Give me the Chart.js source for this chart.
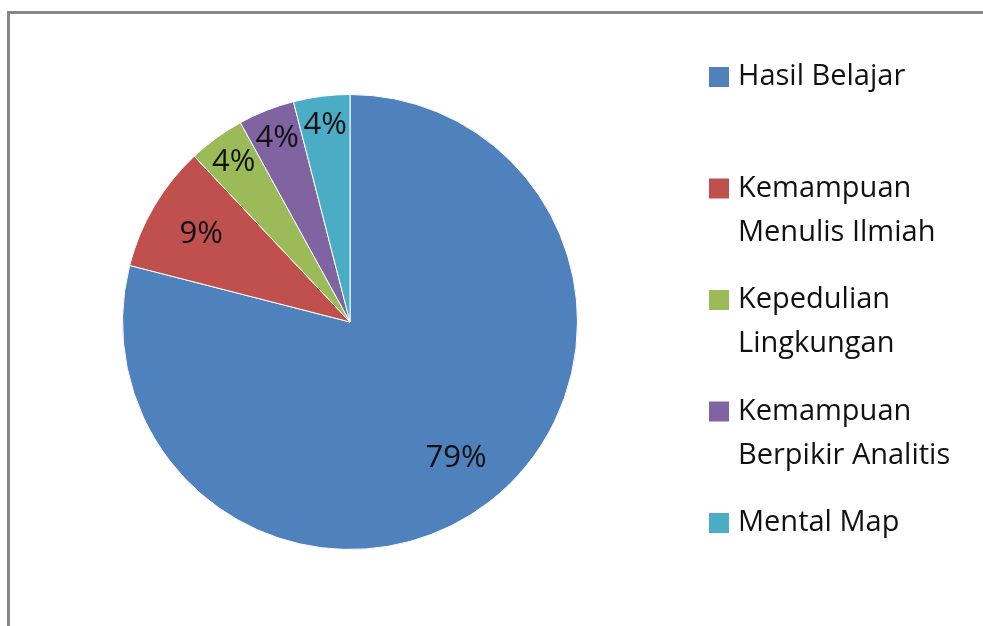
<!DOCTYPE html>
<html>
<head>
<meta charset="utf-8">
<script src="https://cdn.jsdelivr.net/npm/chart.js@4.4.0/dist/chart.umd.min.js"></script>
<style>
  body { margin: 0; background: #fff; }
  #wrap { position: relative; width: 983px; height: 626px; }
</style>
</head>
<body>
<div id="wrap"><canvas id="pieChart" width="983" height="626"></canvas></div>
<script>
// data
const categories = ["Hasil Belajar", "Kemampuan Menulis Ilmiah", "Kepedulian Lingkungan", "Kemampuan Berpikir Analitis", "Mental Map"];
const legendLines = [["Hasil Belajar"], ["Kemampuan", "Menulis Ilmiah"], ["Kepedulian", "Lingkungan"], ["Kemampuan", "Berpikir Analitis"], ["Mental Map"]];
const percentages = [79, 9, 4, 4, 4];
const sliceColors = ["#4F81BD", "#C0504D", "#9BBB59", "#8064A2", "#4BACC6"];

const FONT = "'Open Sans', sans-serif";

// frame of the chart box (cut at right and bottom like the screenshot)
const framePlugin = {
    id: "frame",
    beforeDraw(chart) {
        const ctx = chart.ctx;
        ctx.save();
        ctx.fillStyle = "#878787";
        ctx.fillRect(7, 11, 983 - 7, 3);
        ctx.fillRect(7, 11, 3, 626 - 11);
        ctx.restore();
    }
};

// percent labels inside slices
const pctLabels = {
    id: "pctLabels",
    afterDatasetsDraw(chart) {
        const ctx = chart.ctx;
        const meta = chart.getDatasetMeta(0);
        ctx.save();
        ctx.font = "31px " + FONT;
        ctx.fillStyle = "#111";
        ctx.textAlign = "center";
        ctx.textBaseline = "middle";
        meta.data.forEach((arc, i) => {
            const mid = (arc.startAngle + arc.endAngle) / 2;
            const f = percentages[i] > 5 ? 0.76 : 0.87;
            const x = arc.x + Math.cos(mid) * arc.outerRadius * f;
            const y = arc.y + Math.sin(mid) * arc.outerRadius * f;
            ctx.fillText(percentages[i] + "%", x, y);
        });
        ctx.restore();
    }
};

// legend on the right with wrapped text
const sideLegend = {
    id: "sideLegend",
    afterDraw(chart) {
        const ctx = chart.ctx;
        const top = 77, step = 111.5, lineH = 44;
        ctx.save();
        ctx.font = "29px " + FONT;
        ctx.textBaseline = "middle";
        ctx.textAlign = "left";
        categories.forEach((c, i) => {
            const y = top + i * step;
            ctx.fillStyle = sliceColors[i];
            ctx.fillRect(709, y - 10, 20, 20);
            ctx.fillStyle = "#111";
            legendLines[i].forEach((line, j) => ctx.fillText(line, 738, y + j * lineH));
        });
        ctx.restore();
    }
};

new Chart(document.getElementById("pieChart"), {
    type: "pie",
    data: {
        labels: categories,
        datasets: [{
            data: percentages,
            backgroundColor: sliceColors,
            borderColor: "#fff",
            borderWidth: 1
        }]
    },
    options: {
        responsive: false,
        animation: false,
        layout: { padding: { left: 122, right: 405, top: 94, bottom: 76 } },
        plugins: {
            legend: { display: false },
            tooltip: { enabled: false }
        }
    },
    plugins: [framePlugin, pctLabels, sideLegend]
});
</script>
</body>
</html>
